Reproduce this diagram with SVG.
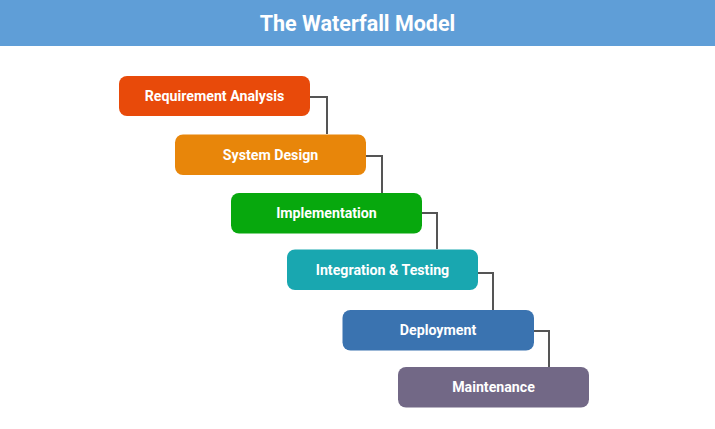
<svg xmlns="http://www.w3.org/2000/svg" width="715" height="429" viewBox="0 0 715 429">
  <style>
    .title { font-family: Roboto, "Liberation Sans", sans-serif; font-weight: 700; font-size: 21.5px; fill: #ffffff; }
    .label { font-family: Roboto, "Liberation Sans", sans-serif; font-weight: 700; font-size: 14.2px; fill: #ffffff; }
    .step { stroke: none; }
    .link { fill: none; stroke: #555555; stroke-width: 2; }
  </style>
  <rect x="0" y="0" width="715" height="429" fill="#ffffff"/>

  <!-- header bar -->
  <g id="header">
    <rect x="0" y="0" width="715" height="46" fill="#5f9ed7"/>
    <text class="title" x="357.5" y="30.5" text-anchor="middle">The Waterfall Model</text>
  </g>

  <!-- connectors between phases -->
  <g id="connectors">
    <polyline class="link" points="310,97 327,97 327,134"/>
    <polyline class="link" points="366,156 382,156 382,193"/>
    <polyline class="link" points="422,213 437,213 437,249"/>
    <polyline class="link" points="478,273 493,273 493,310"/>
    <polyline class="link" points="534,331 549,331 549,367"/>
  </g>

  <g id="requirement-analysis">
    <rect class="step" x="119" y="76" width="191" height="40" rx="8" fill="#e84a0a"/>
    <text class="label" x="214.5" y="101" text-anchor="middle">Requirement Analysis</text>
  </g>
  <g id="system-design">
    <rect class="step" x="175" y="134.5" width="191" height="40.5" rx="8" fill="#e8860a"/>
    <text class="label" x="270.5" y="159.5" text-anchor="middle">System Design</text>
  </g>
  <g id="implementation">
    <rect class="step" x="231" y="193" width="191" height="40.5" rx="8" fill="#07a80d"/>
    <text class="label" x="326.5" y="218" text-anchor="middle">Implementation</text>
  </g>
  <g id="integration-testing">
    <rect class="step" x="287" y="249.5" width="191" height="40.5" rx="8" fill="#19a7b0"/>
    <text class="label" x="382.5" y="274.5" text-anchor="middle">Integration &amp; Testing</text>
  </g>
  <g id="deployment">
    <rect class="step" x="342.5" y="310" width="191.5" height="40.5" rx="8" fill="#3a73b0"/>
    <text class="label" x="438" y="335" text-anchor="middle">Deployment</text>
  </g>
  <g id="maintenance">
    <rect class="step" x="398" y="367" width="191" height="40.5" rx="8" fill="#726886"/>
    <text class="label" x="493.5" y="392" text-anchor="middle">Maintenance</text>
  </g>
</svg>
